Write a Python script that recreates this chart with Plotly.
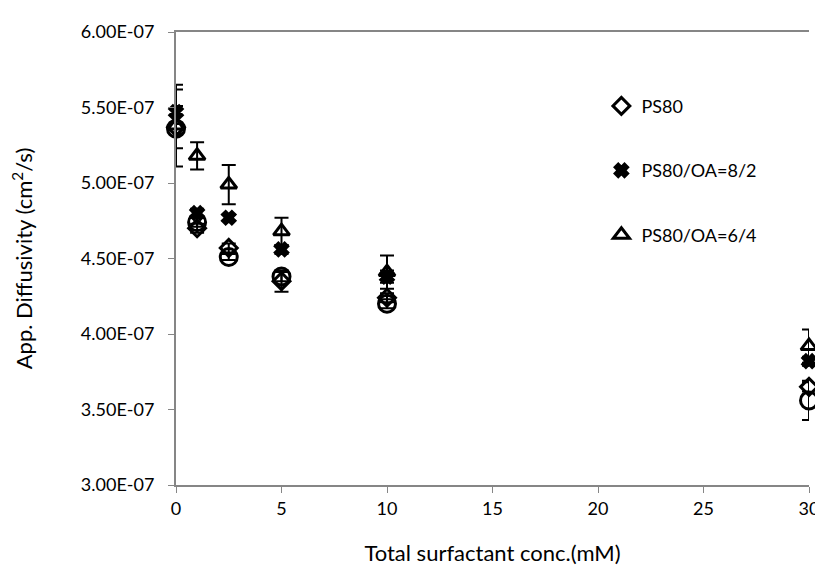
import plotly.graph_objects as go

conc = [0, 1, 2.5, 5, 10, 30]

ps80 = [5.37e-7, 4.70e-7, 4.57e-7, 4.35e-7, 4.24e-7, 3.65e-7]
ps80_err = [0.14e-7, 0.03e-7, 0.03e-7, 0.07e-7, 0.03e-7, 0.03e-7]

oa82 = [5.47e-7, 4.80e-7, 4.77e-7, 4.56e-7, 4.38e-7, 3.82e-7]
oa82_err = [0.15e-7, 0.03e-7, 0.02e-7, 0.03e-7, 0.04e-7, 0.03e-7]

oa64 = [5.38e-7, 5.18e-7, 4.99e-7, 4.68e-7, 4.41e-7, 3.92e-7]
oa64_err = [0.27e-7, 0.09e-7, 0.13e-7, 0.09e-7, 0.11e-7, 0.11e-7]

other = [5.36e-7, 4.74e-7, 4.51e-7, 4.38e-7, 4.20e-7, 3.56e-7]
other_err = [0.03e-7, 0.03e-7, 0.02e-7, 0.03e-7, 0.03e-7, 0.13e-7]

names = ["PS80", "PS80/OA=8/2", "PS80/OA=6/4"]
ytick_vals = [3.0e-7, 3.5e-7, 4.0e-7, 4.5e-7, 5.0e-7, 5.5e-7, 6.0e-7]
ytick_text = ["3.00E-07", "3.50E-07", "4.00E-07", "4.50E-07", "5.00E-07", "5.50E-07", "6.00E-07"]
xtick_vals = [0, 5, 10, 15, 20, 25, 30]

FONT = "Lato, 'Open Sans', sans-serif"

fig = go.Figure()

def add(y, err, name, symbol, size, show=True, group=None):
    fig.add_trace(go.Scatter(
        x=conc, y=y, mode="markers", name=name,
        showlegend=show, legendgroup=group,
        marker=dict(symbol=symbol, size=size, color="black",
                    line=dict(color="black", width=3)),
        error_y=dict(type="data", array=err, visible=True,
                     color="black", thickness=2, width=7),
        cliponaxis=False,
    ))

add(other, other_err, "other", "circle-open", 17, show=False)
add(ps80, ps80_err, names[0], "diamond-open", 13, group="a")
add(oa82, oa82_err, names[1], "x", 11, group="b")
add(oa64, oa64_err, names[2], "triangle-up-open", 14, group="c")

fig.update_layout(
    width=823, height=573,
    paper_bgcolor="white", plot_bgcolor="white",
    margin=dict(l=168, r=12, t=21, b=96),
    font=dict(family=FONT, size=18, color="black"),
    legend=dict(x=0.672, y=0.877, xanchor="left", yanchor="top",
                font=dict(size=18, family=FONT),
                tracegroupgap=38, itemwidth=30,
                bgcolor="rgba(0,0,0,0)"),
    xaxis=dict(range=[0, 30], tickvals=xtick_vals,
               showline=True, linecolor="#868686", linewidth=2, mirror=True,
               ticks="outside", ticklen=6, tickcolor="#868686",
               showgrid=False, zeroline=False,
               tickfont=dict(size=18),
               title=dict(text="Total surfactant conc.(mM)", font=dict(size=22), standoff=28)),
    yaxis=dict(range=[3.0e-7, 6.0e-7], tickvals=ytick_vals, ticktext=ytick_text,
               showline=True, linecolor="#868686", linewidth=2,
               ticks="outside", ticklen=6, tickcolor="#868686",
               ticklabelstandoff=10,
               showgrid=False, zeroline=False,
               tickfont=dict(size=18),
               title=dict(text="App. Diffusivity (cm<sup>2</sup>/s)", font=dict(size=22), standoff=44)),
)

fig.write_html("out.html")
